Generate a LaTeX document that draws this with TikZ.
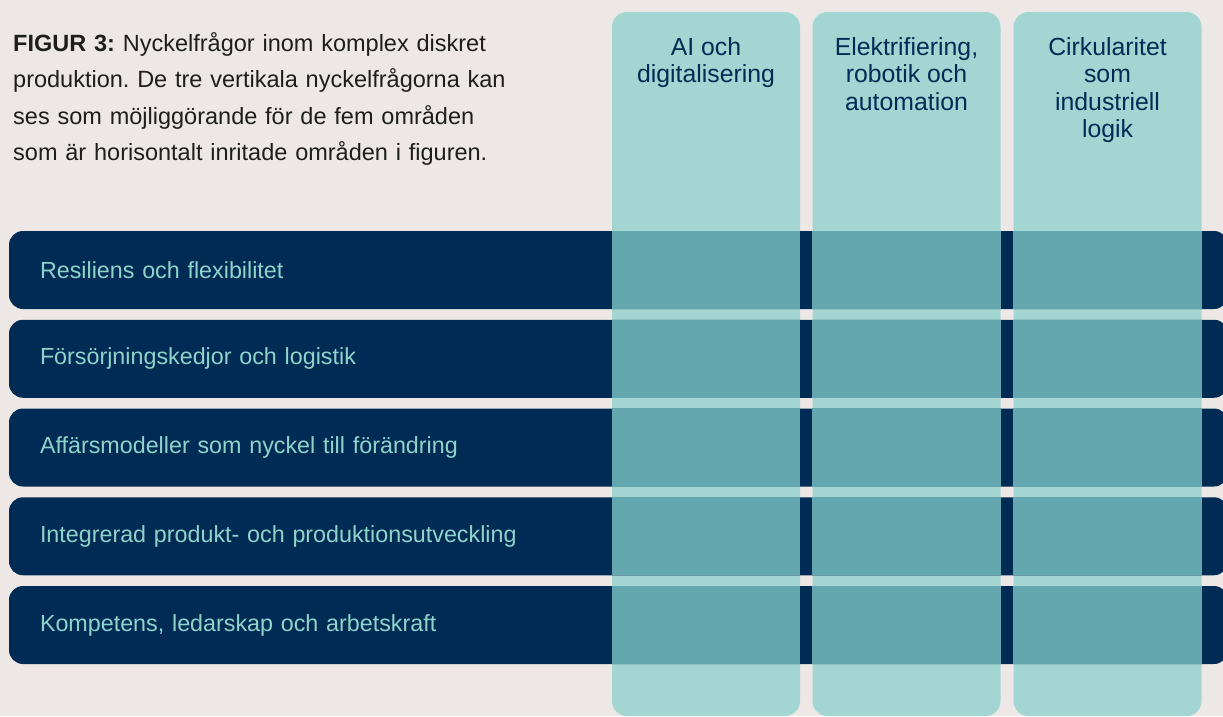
\documentclass[tikz,border=0pt]{standalone}
\usepackage{fontspec}
\setmainfont{Liberation Sans}
\usetikzlibrary{calc}
\frenchspacing
\definecolor{bgc}{HTML}{EDE8E5}
\definecolor{navy}{HTML}{002B55}
\definecolor{lightteal}{HTML}{A3D6D2}
\definecolor{midteal}{HTML}{64A7AF}
\definecolor{rowtext}{HTML}{8FD4CB}
\definecolor{captext}{HTML}{1E1E1E}
\tikzset{
  colbox/.style={fill=lightteal, rounded corners=15pt, minimum width=188pt, minimum height=704pt, inner sep=0pt, draw=none},
  rowbox/.style={fill=navy, rounded corners=14pt, minimum width=1219pt, minimum height=78pt, inner xsep=31pt, inner ysep=0pt, text width=1157pt, align=left, text=rowtext, font=\fontsize{23.3}{26}\selectfont},
  coltitle/.style={anchor=north, inner sep=0pt, align=center, text=navy, font=\fontsize{24.8}{27.5}\selectfont},
  overlap/.style={fill=midteal}
}
\begin{document}
\begin{tikzpicture}[x=1pt,y=-1pt]
\fill[bgc] (0,0) rectangle (1223,716);
\useasboundingbox (0,0) rectangle (1223,716);
\begin{scope}
\clip (0,0) rectangle (1223,716);
% columns
\node[colbox] (c1) at (706,364) {};
\node[colbox] (c2) at (906.5,364) {};
\node[colbox] (c3) at (1107.5,364) {};
% rows
\node[rowbox] (r1) at (618.5,270) {Resiliens och flexibilitet};
\node[rowbox] (r2) at (618.5,358.75) {Försörjningskedjor och logistik};
\node[rowbox] (r3) at (618.5,447.5) {Affärsmodeller som nyckel till förändring};
\node[rowbox] (r4) at (618.5,536.25) {Integrerad produkt- och produktionsutveckling};
\node[rowbox] (r5) at (618.5,625) {Kompetens, ledarskap och arbetskraft};
% overlaps
\foreach \c in {c1,c2,c3}{
  \foreach \r in {r1,r2,r3,r4,r5}{
    \fill[overlap] (\c.west |- \r.north) rectangle (\c.east |- \r.south);
  }
}
\end{scope}
% column titles
\node[coltitle] (t1) at (706,37) {AI och\\digitalisering};
\node[coltitle] (t2) at (906.5,37) {Elektrifiering,\\robotik och\\automation};
\node[coltitle] (t3) at (1107.5,37) {Cirkularitet\\som\\industriell\\logik};
% caption
\node[anchor=north west, inner sep=0pt, text width=600pt, align=left, text=captext, font=\fontsize{23.5}{36.5}\selectfont] (cap) at (13,32)
  {\textbf{FIGUR 3:} Nyckelfrågor inom komplex diskret\\produktion. De tre vertikala nyckelfrågorna kan\\ses som möjliggörande för de fem områden\\som är horisontalt inritade områden i figuren.};
\end{tikzpicture}
\end{document}
